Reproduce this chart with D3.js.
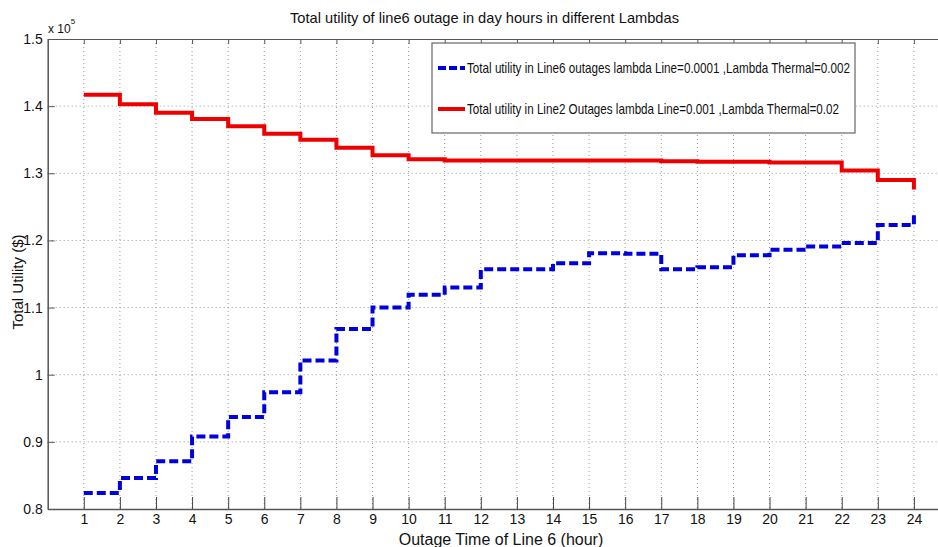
<!DOCTYPE html>
<html>
<head>
<meta charset="utf-8">
<script src="https://cdn.jsdelivr.net/npm/d3@7"></script>
<style>
  body { margin: 0; background: #fff; }
  text { font-family: "Liberation Sans", Arial, sans-serif; fill: #111; }
</style>
</head>
<body>
<div id="chart"></div>
<script>
// hours 1..24, values in units of 1e5 $
var hours = d3.range(1, 25);
var line6Utility = [0.824, 0.846, 0.871, 0.908, 0.937, 0.974, 1.021, 1.068, 1.100, 1.119,
  1.130, 1.157, 1.157, 1.166, 1.181, 1.180, 1.157, 1.160, 1.178, 1.186,
  1.191, 1.196, 1.223, 1.243];
var line2Utility = [1.417, 1.403, 1.390, 1.381, 1.370, 1.359, 1.350, 1.338, 1.327, 1.321,
  1.319, 1.319, 1.319, 1.319, 1.319, 1.319, 1.318, 1.317, 1.317, 1.316,
  1.316, 1.304, 1.290, 1.276];
var xTicks = d3.range(1, 25);
var yTicks = [0.8, 0.9, 1, 1.1, 1.2, 1.3, 1.4, 1.5];
var legendLabels = [
  "Total utility in Line6 outages lambda Line=0.0001 ,Lambda Thermal=0.002",
  "Total utility in Line2 Outages lambda Line=0.001 ,Lambda Thermal=0.02"
];

var W = 938, H = 547;
var margin = {top: 39, left: 47.7, bottom: 38, right: -12};
var width = W - margin.left - margin.right,
    height = H - margin.top - margin.bottom;

var svg = d3.select("#chart").append("svg")
  .attr("width", W).attr("height", H);

var x = d3.scaleLinear().domain([0, 25]).range([0, width]);
var y = d3.scaleLinear().domain([0.8, 1.5]).range([height, 0]);

var g = svg.append("g")
  .attr("transform", "translate(" + margin.left + "," + margin.top + ")");

// grid
g.selectAll(".vgrid").data(xTicks).enter().append("line")
  .attr("x1", d => x(d)).attr("x2", d => x(d))
  .attr("y1", 0).attr("y2", height)
  .attr("stroke", "#999").attr("stroke-width", 1)
  .attr("stroke-dasharray", "1,3");
g.selectAll(".hgrid").data(yTicks.slice(1, -1)).enter().append("line")
  .attr("y1", d => y(d)).attr("y2", d => y(d))
  .attr("x1", 0).attr("x2", width)
  .attr("stroke", "#999").attr("stroke-width", 1)
  .attr("stroke-dasharray", "1,3");

// axes box
g.append("g")
  .attr("transform", "translate(0," + height + ")")
  .call(d3.axisBottom(x).tickValues(xTicks).tickSizeInner(-12).tickSizeOuter(0).tickPadding(5))
  .call(a => a.select(".domain").attr("stroke", "#555").attr("stroke-width", 1.5))
  .call(a => a.selectAll(".tick line").attr("stroke", "#444"))
  .call(a => a.selectAll("text").style("font-size", "14px").attr("fill", "#111"));

g.append("g")
  .call(d3.axisTop(x).tickValues(xTicks).tickSizeInner(-5).tickSizeOuter(0).tickFormat(""))
  .call(a => a.select(".domain").attr("stroke", "#555").attr("stroke-width", 1.2))
  .call(a => a.selectAll(".tick line").attr("stroke", "#555"));

g.append("g")
  .call(d3.axisLeft(y).tickValues(yTicks).tickSizeInner(-7).tickSizeOuter(0).tickPadding(5)
    .tickFormat(d => d3.format("")(+d.toFixed(1))))
  .call(a => a.select(".domain").attr("stroke", "#555").attr("stroke-width", 1.5))
  .call(a => a.selectAll(".tick line").attr("stroke", "#555"))
  .call(a => a.selectAll("text").style("font-size", "14px").attr("fill", "#111"));

// stairs
var stairs = d3.line().x(d => x(d[0])).y(d => y(d[1])).curve(d3.curveStepAfter);

g.append("path")
  .datum(d3.zip(hours, line2Utility))
  .attr("d", stairs)
  .attr("fill", "none").attr("stroke", "#ee0000").attr("stroke-width", 4);

g.append("path")
  .datum(d3.zip(hours, line6Utility))
  .attr("d", stairs)
  .attr("fill", "none").attr("stroke", "#0000dd").attr("stroke-width", 4)
  .attr("stroke-dasharray", "9,4");

// legend
var lg = svg.append("g").attr("transform", "translate(432,43)");
lg.append("rect").attr("width", 423).attr("height", 90)
  .attr("fill", "#fff").attr("stroke", "#666").attr("stroke-width", 1.2);
var colors = ["#0000dd", "#ee0000"];
var dashes = ["8,3", null];
var ly = [25, 66];
var lw = [383, 372];
legendLabels.forEach(function(t, i) {
  lg.append("line")
    .attr("x1", 6).attr("x2", 33).attr("y1", ly[i]).attr("y2", ly[i])
    .attr("stroke", colors[i]).attr("stroke-width", 4)
    .attr("stroke-dasharray", dashes[i]);
  lg.append("text")
    .attr("x", 35).attr("y", ly[i] + 5)
    .attr("textLength", lw[i]).attr("lengthAdjust", "spacingAndGlyphs")
    .style("font-size", "15px")
    .text(t);
});

// titles
svg.append("text")
  .attr("x", 290).attr("y", 23)
  .attr("textLength", 389).attr("lengthAdjust", "spacingAndGlyphs")
  .style("font-size", "15px")
  .text("Total utility of line6 outage in day hours in different Lambdas");

svg.append("text")
  .attr("x", 501).attr("y", 545)
  .attr("text-anchor", "middle")
  .style("font-size", "16px")
  .text("Outage Time of Line 6  (hour)");

svg.append("text")
  .attr("transform", "translate(23,282) rotate(-90)")
  .attr("text-anchor", "middle")
  .style("font-size", "15px")
  .text("Total Utility ($)");

var exp = svg.append("text").attr("x", 48).attr("y", 33).style("font-size", "12px");
exp.append("tspan").text("x 10");
exp.append("tspan").attr("dy", -9).style("font-size", "8px").text("5");
</script>
</body>
</html>
